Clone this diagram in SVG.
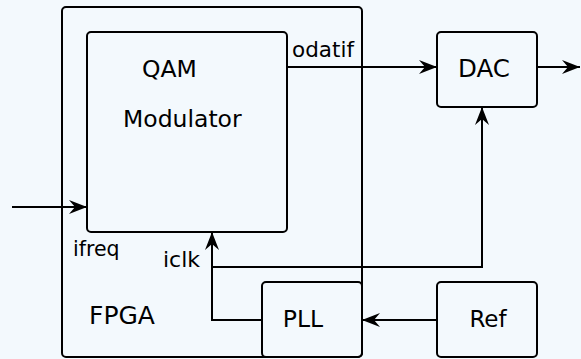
<svg xmlns="http://www.w3.org/2000/svg" width="581" height="359" viewBox="0 0 581 359">
  <style>
    .box { fill: none; stroke: #000; stroke-width: 2; }
    .wire { fill: none; stroke: #000; stroke-width: 2; }
    .lbl { font-family: "DejaVu Sans", sans-serif; fill: #000; }
  </style>
  <defs>
    <marker id="arrow" markerUnits="userSpaceOnUse" markerWidth="18" markerHeight="14" refX="18" refY="7" orient="auto" overflow="visible">
      <path d="M0,0 L18,7 L0,14 L6,7 z" fill="#000"/>
    </marker>
  </defs>
  <rect width="581" height="359" fill="#f3f9fd"/>

  <g id="fpga">
    <rect class="box" x="62" y="7" width="300" height="350" rx="4"/>
    <text class="lbl" x="89" y="324" font-size="25">FPGA</text>
  </g>

  <g id="qam-modulator">
    <rect class="box" x="87" y="32" width="200" height="200" rx="4"/>
    <text class="lbl" x="142" y="77" font-size="23.5">QAM</text>
    <text class="lbl" x="123" y="127" font-size="23.5">Modulator</text>
  </g>

  <g id="dac">
    <rect class="box" x="437" y="32" width="100" height="75" rx="4"/>
    <text class="lbl" x="484" y="77" font-size="24.5" text-anchor="middle">DAC</text>
  </g>

  <g id="pll">
    <rect class="box" x="262" y="282" width="100" height="75" rx="4"/>
    <text class="lbl" x="303" y="327" font-size="23.5" text-anchor="middle">PLL</text>
  </g>

  <g id="ref">
    <rect class="box" x="437" y="282" width="100" height="75" rx="4"/>
    <text class="lbl" x="488" y="327" font-size="23" text-anchor="middle">Ref</text>
  </g>

  <g id="connectors">
    <path class="wire" d="M12,207 H87" marker-end="url(#arrow)"/>
    <path class="wire" d="M287,67 H437" marker-end="url(#arrow)"/>
    <path class="wire" d="M537,67 H580" marker-end="url(#arrow)"/>
    <path class="wire" d="M262,320 H212 V232" marker-end="url(#arrow)"/>
    <path class="wire" d="M212,267 H482 V107" marker-end="url(#arrow)"/>
    <path class="wire" d="M437,320 H362" marker-end="url(#arrow)"/>
    <text class="lbl" x="292" y="57" font-size="21.5">odatif</text>
    <text class="lbl" x="73" y="256" font-size="20.5">ifreq</text>
    <text class="lbl" x="163" y="267" font-size="22">iclk</text>
  </g>
</svg>
